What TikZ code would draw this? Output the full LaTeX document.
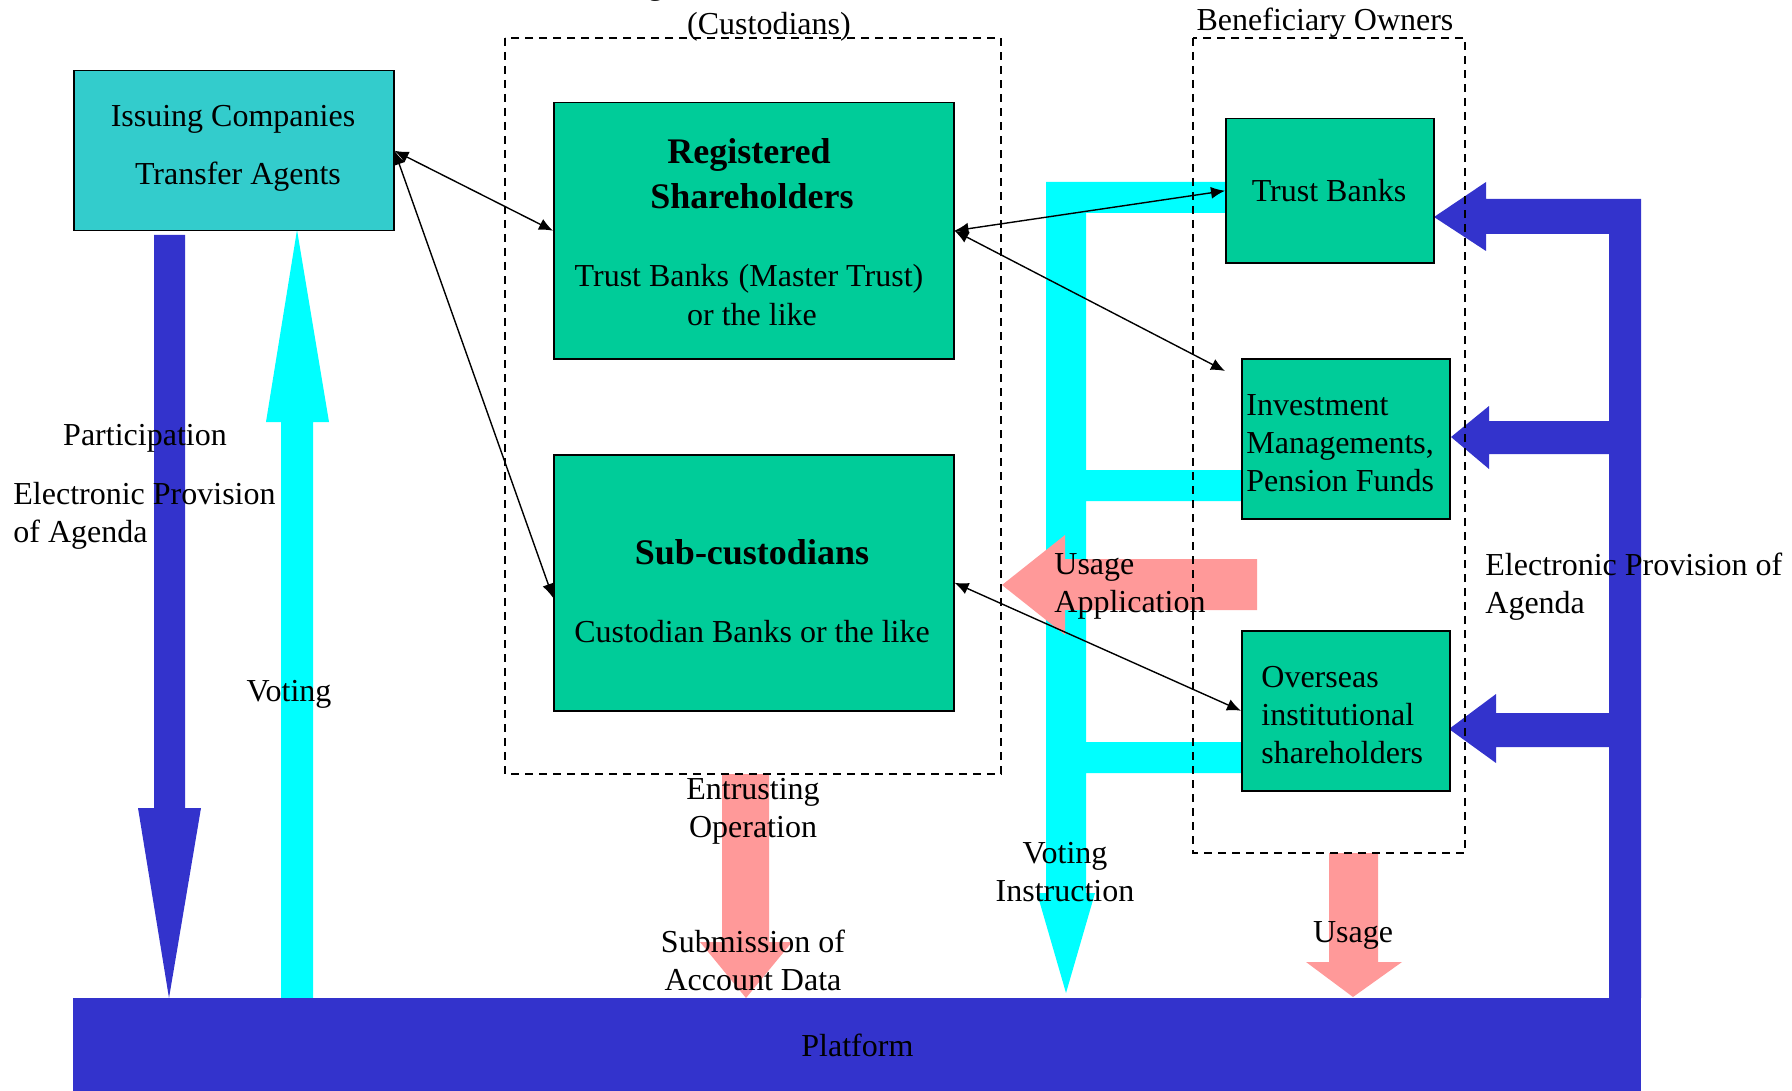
\documentclass[tikz,border=0pt]{standalone}
\usepackage{fontspec}
\setmainfont{Liberation Serif}
\usetikzlibrary{arrows.meta}
\definecolor{cyanbox}{HTML}{33CCCC}
\definecolor{greenbox}{HTML}{00CC99}
\definecolor{bluearr}{HTML}{3333CC}
\definecolor{cyanarr}{HTML}{00FFFF}
\definecolor{pinkarr}{HTML}{FF9999}
\begin{document}
\begin{tikzpicture}[x=0.5pt,y=-0.5pt,
  txt/.style={font=\fontsize{16}{19}\selectfont, inner sep=0pt},
  boldtxt/.style={font=\fontsize{18}{22.5}\selectfont\bfseries, inner sep=0pt},
  box/.style={draw=black, line width=0.75pt, inner sep=0pt, anchor=north west},
  dbox/.style={draw=black, line width=0.6pt, dash pattern=on 4pt off 3pt},
  link/.style={black, line width=0.7pt, {Latex[length=7pt,width=6pt]}-{Latex[length=7pt,width=6pt]}},
]
\useasboundingbox (0,0) rectangle (1792,1091);

% thick arrows
\fill[bluearr] (154,235) -- (185,235) -- (185,808) -- (201,808) -- (169,998) -- (138,808) -- (154,808) -- cycle;
\fill[cyanarr] (281,998) -- (281,422) -- (266,422) -- (297,230) -- (329,422) -- (313,422) -- (313,998) -- cycle;
\fill[cyanarr] (1046,182) -- (1225,182) -- (1225,213) -- (1086,213) -- (1086,470) -- (1241,470) -- (1241,501) -- (1086,501) -- (1086,742) -- (1241,742) -- (1241,773) -- (1086,773) -- (1086,893) -- (1095,893) -- (1066,993) -- (1037,893) -- (1046,893) -- cycle;
\fill[bluearr] (1641,199) -- (1641,998) -- (1609,998) -- (1609,747) -- (1496,747) -- (1496,763) -- (1449,729) -- (1496,694) -- (1496,713) -- (1609,713) -- (1609,454) -- (1489,454) -- (1489,469) -- (1451,437) -- (1489,406) -- (1489,421) -- (1609,421) -- (1609,234) -- (1486,234) -- (1486,251) -- (1434,217) -- (1486,182) -- (1486,199) -- cycle;
\fill[pinkarr] (1257,559) -- (1257,610) -- (1065,610) -- (1065,635) -- (1002,585) -- (1065,535) -- (1065,559) -- cycle;
\fill[pinkarr] (722,774) -- (769,774) -- (769,942) -- (792,942) -- (746,998) -- (700,942) -- (722,942) -- cycle;
\fill[pinkarr] (1329,853) -- (1378,853) -- (1378,962) -- (1402,962) -- (1353,997) -- (1306,962) -- (1329,962) -- cycle;

% boxes
\node[box, fill=cyanbox, minimum width=160pt, minimum height=80pt] (iss) at (73,70) {};
\node[box, fill=greenbox, minimum width=200pt, minimum height=128pt] (reg) at (553,102) {};
\node[box, fill=greenbox, minimum width=200pt, minimum height=128pt] (sub) at (553,454) {};
\node[box, fill=greenbox, minimum width=104pt, minimum height=72pt] (tb) at (1225,118) {};
\node[box, fill=greenbox, minimum width=104pt, minimum height=80pt] (inv) at (1241,358) {};
\node[box, fill=greenbox, minimum width=104pt, minimum height=80pt] (ov) at (1241,630) {};
\node[anchor=north west, fill=bluearr, inner sep=0pt, minimum width=784pt, minimum height=46.5pt, font=\fontsize{16}{19}\selectfont] (plat) at (73,998) {Platform};

% dashed groups
\draw[dbox] (505,38) rectangle (1001,774);
\draw[dbox] (1193,38) rectangle (1465,853);

% links
\draw[link] (iss.east) -- (reg.west);
\draw[link] (iss.east) -- ([yshift=-7.5pt]sub.west);
\draw[link] (reg.east) -- (tb.west);
\draw[link] (reg.east) -- ([xshift=-8pt,yshift=-6.5pt]inv.north west);
\draw[link] (sub.east) -- (ov.west);

% texts
\node[txt, anchor=base] at (768,-5) {Registered Shareholders};
\node[txt] at (769,27) {(Custodians)};
\node[txt] at (1325,23) {Beneficiary Owners};
\node[txt] at (233,119) {Issuing Companies};
\node[txt] at (238,177) {Transfer Agents};
\node[boldtxt] at (749,155) {Registered};
\node[boldtxt] at (752,196) {Shareholders};
\node[txt] at (749,279) {Trust Banks\hspace{0.3em}(Master Trust)};
\node[txt] at (752,315) {or the like};
\node[boldtxt] at (752,552) {Sub-custodians};
\node[txt] at (752,632) {Custodian Banks or the like};
\node[txt] at (1329,191) {Trust Banks};
\node[txt, anchor=west, align=left] at (1246,443) {Investment\\Managements,\\Pension Funds};
\node[txt, anchor=west, align=left] at (1261,715) {Overseas\\institutional\\shareholders};
\node[txt] at (145,438) {Participation};
\node[txt, anchor=west, align=left] at (13,516) {Electronic Provision\\of Agenda};
\node[txt] at (289,694) {Voting};
\node[txt, anchor=west, align=left] at (1054,586) {Usage\\Application};
\node[txt, align=center] at (753,811) {Entrusting\\Operation};
\node[txt, align=center] at (1065,872) {Voting\\Instruction};
\node[txt, align=center] at (753,960) {Submission of\\Account Data};
\node[txt] at (1353,935) {Usage};
\node[txt, anchor=west, align=left] at (1485,587) {Electronic Provision of\\Agenda};
\end{tikzpicture}
\end{document}
